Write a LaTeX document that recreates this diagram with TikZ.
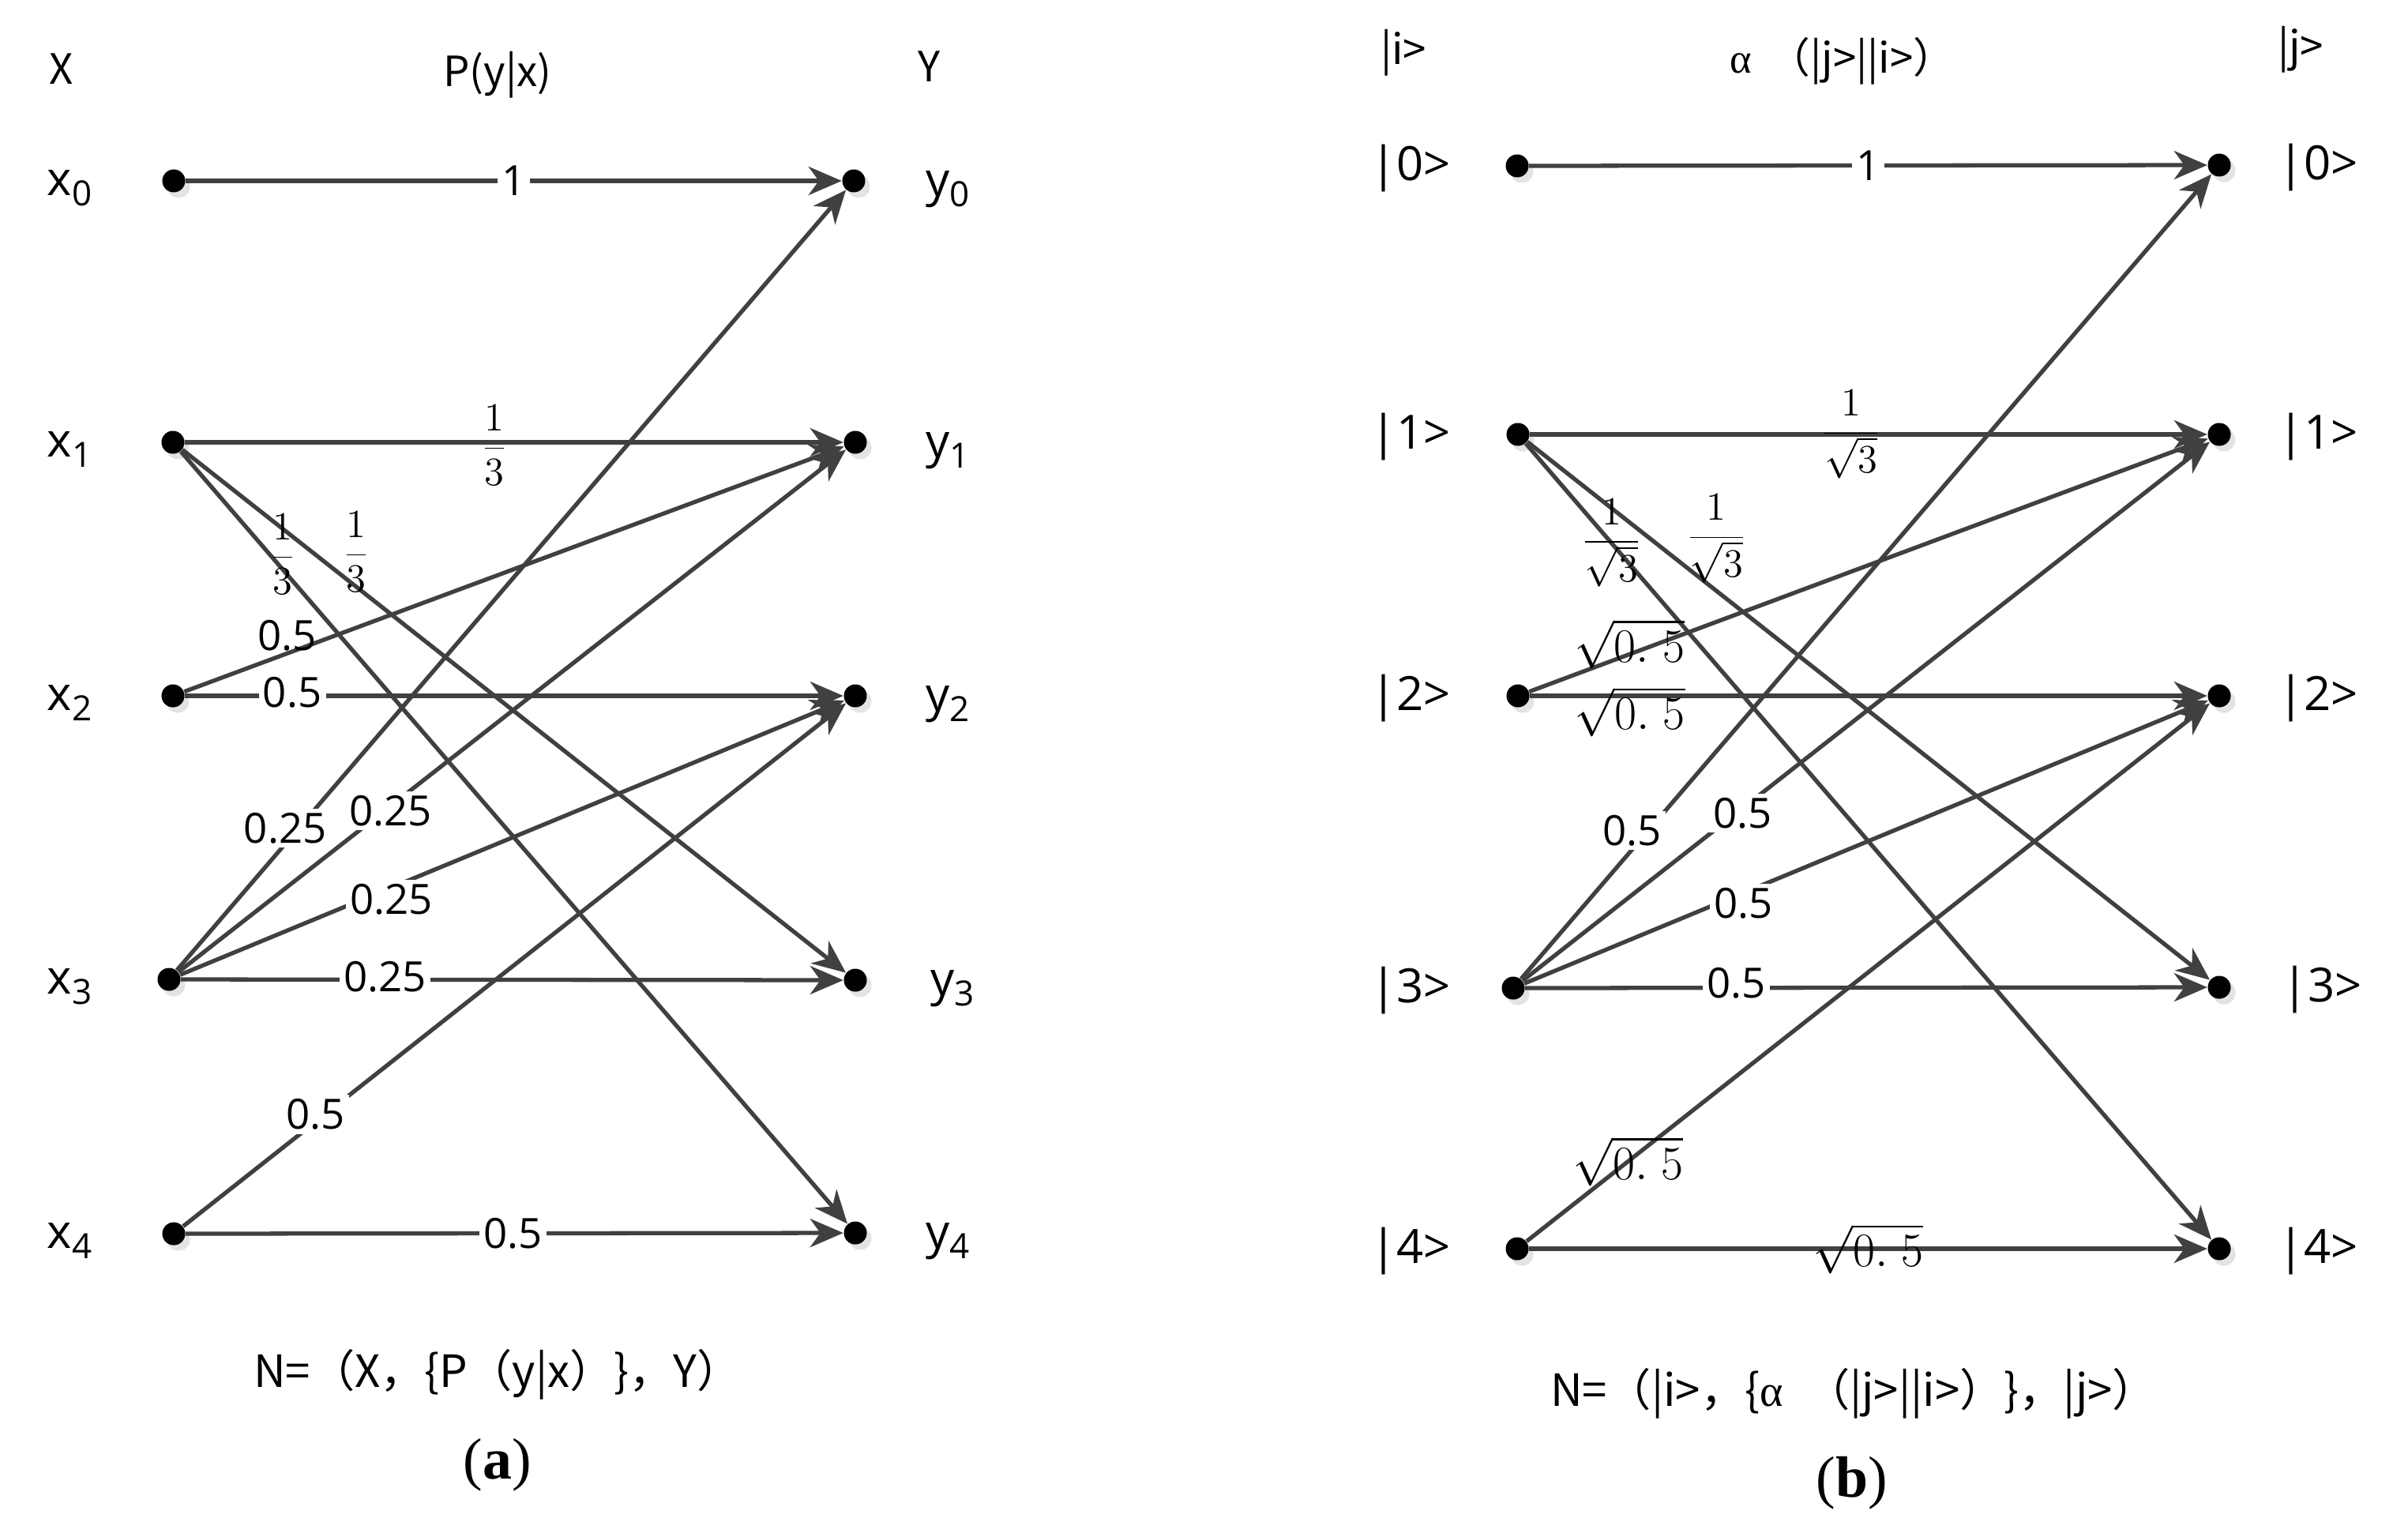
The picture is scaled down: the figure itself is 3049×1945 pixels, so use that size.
\documentclass[tikz,border=0pt]{standalone}
\usepackage[no-math]{fontspec}
\setmainfont{Open Sans}
\newfontfamily\cjk{Noto Sans CJK SC}
\newfontfamily\serifF{Liberation Serif}
\usetikzlibrary{arrows.meta,shadows}
\newcommand\sbx[1]{\raisebox{-0.22em}{\fontsize{12.5}{14}\selectfont #1}}
\begin{document}
\begin{tikzpicture}[x=0.01cm,y=-0.01cm,
  vdot/.style={circle,fill=black,inner sep=0pt,minimum size=0.29cm,
    general shadow={fill=black!11,shadow xshift=0.06cm,shadow yshift=-0.07cm}},
  conn/.style={draw=black!75,line width=1.5pt,-{Stealth[length=0.42cm,width=0.36cm,inset=0.13cm]}},
  num/.style={fill=white,inner sep=1.5pt,font=\fontsize{15}{18}\selectfont},
  numn/.style={inner sep=1pt,font=\fontsize{15}{18}\selectfont},
  fr/.style={inner sep=0pt,font=\fontsize{15}{18}\selectfont},
  sq/.style={inner sep=0pt,font=\fontsize{16}{19}\selectfont},
  nlab/.style={font=\fontsize{17}{20}\selectfont},
  hdr/.style={font=\cjk\fontsize{15}{18}\selectfont},
  hdrb/.style={font=\cjk\fontsize{15}{18}\selectfont},
  formula/.style={font=\cjk\fontsize{16}{19}\selectfont},
  capt/.style={font=\serifF\fontsize{21}{24}\selectfont}]
\useasboundingbox (0,0) rectangle (3049,1945);

% ---------- panel (a) ----------
\node[hdr] (hX) at (78,87) {X};
\node[hdr] (hP) at (630,95) {P(y|x)};
\node[hdr] (hY) at (1176,84) {Y};

\node[vdot] (x0) at (220,229) {};
\node[vdot] (x1) at (219,560) {};
\node[vdot] (x2) at (219,881) {};
\node[vdot] (x3) at (214,1240) {};
\node[vdot] (x4) at (220,1562) {};
\node[vdot] (y0) at (1081,229) {};
\node[vdot] (y1) at (1083,560) {};
\node[vdot] (y2) at (1083,881) {};
\node[vdot] (y3) at (1083,1241) {};
\node[vdot] (y4) at (1083,1561) {};

\node[nlab] (lx0) at (88,238) {x\sbx{0}};
\node[nlab] (lx1) at (88,569) {x\sbx{1}};
\node[nlab] (lx2) at (88,890) {x\sbx{2}};
\node[nlab] (lx3) at (88,1249) {x\sbx{3}};
\node[nlab] (lx4) at (88,1571) {x\sbx{4}};
\node[nlab] (ly0) at (1200,240) {y\sbx{0}};
\node[nlab] (ly1) at (1200,571) {y\sbx{1}};
\node[nlab] (ly2) at (1200,892) {y\sbx{2}};
\node[nlab] (ly3) at (1206,1252) {y\sbx{3}};
\node[nlab] (ly4) at (1200,1572) {y\sbx{4}};

\draw[conn] (x0) -- node[num,pos=0.5] {1} (y0);
\draw[conn] (x1) -- node[fr,pos=0.47,yshift=-0.04cm] {$\displaystyle\frac{1}{3}$} (y1);
\draw[conn] (x1) -- node[fr,pos=0.262,yshift=0.44cm] {$\displaystyle\frac{1}{3}$} (y3);
\draw[conn] (x1) -- node[fr,pos=0.153,yshift=0.19cm] {$\displaystyle\frac{1}{3}$} (y4);
\draw[conn] (x2) -- node[numn,pos=0.156,yshift=0.23cm] {0.5} (y1);
\draw[conn] (x2) -- node[num,pos=0.163,yshift=0.04cm] {0.5} (y2);
\draw[conn] (x3) -- node[num,pos=0.162,yshift=0.2cm] {0.25} (y0);
\draw[conn] (x3) -- node[num,pos=0.318,yshift=-0.06cm] {0.25} (y1);
\draw[conn] (x3) -- node[num,pos=0.318,yshift=-0.15cm] {0.25} (y2);
\draw[conn] (x3) -- node[num,pos=0.308,yshift=0.04cm] {0.25} (y3);
\draw[conn] (x4) -- node[num,pos=0.2,yshift=0.09cm] {0.5} (y2);
\draw[conn] (x4) -- node[num,pos=0.498] {0.5} (y4);

\node[formula] (fa) at (630,1740) {N=（X，\{P（y|x）\}，Y）};
\node[capt] (ca) at (630,1855) {(\textbf{a})};

% ---------- panel (b) ----------
\node[hdrb] (hi) at (1777,67) {|i>};
\node[hdrb] (ha) at (2333,77) {{\serifF α}\hspace{0.4em}（|j>||i>）};
\node[hdrb] (hj) at (2913,63) {|j>};

\node[vdot] (i0) at (1921,210) {};
\node[vdot] (i1) at (1922,550) {};
\node[vdot] (i2) at (1922,881) {};
\node[vdot] (i3) at (1916,1251) {};
\node[vdot] (i4) at (1921,1581) {};
\node[vdot] (j0) at (2810,209) {};
\node[vdot] (j1) at (2810,550) {};
\node[vdot] (j2) at (2810,881) {};
\node[vdot] (j3) at (2810,1250) {};
\node[vdot] (j4) at (2810,1581) {};

\node[nlab] (li0) at (1786,213) {|0>};
\node[nlab] (li1) at (1786,553) {|1>};
\node[nlab] (li2) at (1786,884) {|2>};
\node[nlab] (li3) at (1786,1254) {|3>};
\node[nlab] (li4) at (1786,1584) {|4>};
\node[nlab] (lj0) at (2935,212) {|0>};
\node[nlab] (lj1) at (2935,553) {|1>};
\node[nlab] (lj2) at (2935,884) {|2>};
\node[nlab] (lj3) at (2940,1253) {|3>};
\node[nlab] (lj4) at (2935,1584) {|4>};

\draw[conn] (i0) -- node[num,pos=0.5] {1} (j0);
\draw[conn] (i1) -- node[fr,pos=0.474] {$\displaystyle\frac{1}{\sqrt{3}}$} (j1);
\draw[conn] (i1) -- node[fr,pos=0.277,yshift=0.66cm] {$\displaystyle\frac{1}{\sqrt{3}}$} (j3);
\draw[conn] (i1) -- node[fr,pos=0.125] {$\displaystyle\frac{1}{\sqrt{3}}$} (j4);
\draw[conn] (i2) -- node[sq,pos=0.1475,yshift=0.13cm] {$\sqrt{0.\;5}$} (j1);
\draw[conn] (i2) -- node[sq,pos=0.1475,yshift=-0.2cm] {$\sqrt{0.\;5}$} (j2);
\draw[conn] (i3) -- node[num,pos=0.161,yshift=0.24cm] {0.5} (j0);
\draw[conn] (i3) -- node[num,pos=0.32,yshift=-0.06cm] {0.5} (j1);
\draw[conn] (i3) -- node[num,pos=0.32,yshift=-0.13cm] {0.5} (j2);
\draw[conn] (i3) -- node[num,pos=0.31,yshift=0.06cm] {0.5} (j3);
\draw[conn] (i4) -- node[sq,pos=0.1485] {$\sqrt{0.\;5}$} (j2);
\draw[conn] (i4) -- node[sq,pos=0.5] {$\sqrt{0.\;5}$} (j4);

\node[formula] (fb) at (2347,1764) {N=（|i>，\{{\serifF α}\hspace{0.5em}（|j>||i>）\}，|j>）};
\node[capt] (cb) at (2345,1878) {(\textbf{b})};
\end{tikzpicture}
\end{document}
